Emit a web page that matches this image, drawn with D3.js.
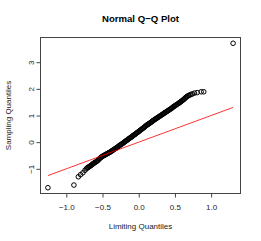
<!DOCTYPE html>
<html><head><meta charset="utf-8">
<script src="https://cdn.jsdelivr.net/npm/d3@7/dist/d3.min.js"></script>
<style>body{margin:0;background:#fff}svg{display:block}text{font-family:"Liberation Sans",Arial,sans-serif}</style>
</head><body><div id="chart"></div>
<script>
const title = "Normal Q\u2212Q Plot";
const xLabel = "Limiting Quantiles";
const yLabel = "Sampling Quantiles";
const xTicks = [-1.0, -0.5, 0.0, 0.5, 1.0];
const yTicks = [-1, 0, 1, 2, 3];
const theoretical = [
 -1.254,-0.895,-0.834,-0.803,-0.771,-0.743,
 -0.724,-0.712,-0.700,-0.690,-0.679,-0.668,-0.657,-0.646,-0.636,-0.625,-0.614,-0.603,-0.592,-0.581,-0.570,-0.559,-0.548,-0.537,-0.526,-0.515,-0.504,
 -0.493,-0.482,-0.471,-0.460,-0.449,-0.438,-0.427,-0.416,-0.405,-0.394,-0.383,-0.372,-0.361,-0.350,-0.340,
 -0.328,-0.317,-0.306,-0.295,-0.284,-0.273,-0.262,-0.251,-0.240,-0.229,-0.218,-0.207,-0.196,-0.185,-0.174,-0.163,-0.152,-0.141,-0.130,-0.119,-0.108,-0.097,-0.086,-0.075,-0.064,-0.053,-0.042,-0.031,-0.020,-0.009,0.002,0.013,0.024,0.035,0.046,0.057,0.068,0.079,0.090,0.101,0.112,
 0.123,0.134,0.145,0.156,0.167,0.178,0.189,0.200,0.211,0.222,0.233,0.244,0.255,0.266,0.277,0.288,0.299,0.310,0.321,0.332,0.343,0.354,0.365,0.376,0.387,0.398,0.409,0.420,0.431,0.442,0.453,0.464,0.475,0.486,0.497,0.508,0.519,0.530,0.541,0.552,0.563,0.574,0.585,0.596,0.607,0.618,0.629,0.640,0.651,0.662,
 0.675,0.690,0.705,0.722,0.740,0.770,0.807,0.862,0.898,
 1.303
];
const sample = [
 -1.71,-1.61,-1.30,-1.22,-1.15,-1.06,
 -1.00,-0.97,-0.95,-0.93,-0.91,-0.89,-0.87,-0.85,-0.82,-0.80,-0.78,-0.76,-0.74,-0.72,-0.70,-0.67,-0.64,-0.61,-0.58,-0.56,-0.54,
 -0.52,-0.50,-0.49,-0.47,-0.45,-0.44,-0.42,-0.40,-0.39,-0.37,-0.35,-0.33,-0.31,-0.29,-0.27,
 -0.25,-0.23,-0.21,-0.19,-0.17,-0.14,-0.12,-0.10,-0.08,-0.06,-0.04,-0.02,0.01,0.03,0.05,0.07,0.09,0.12,0.14,0.16,0.18,0.20,0.23,0.25,0.27,0.29,0.31,0.34,0.36,0.38,0.40,0.43,0.45,0.47,0.50,0.52,0.54,0.57,0.59,0.62,0.64,
 0.66,0.68,0.70,0.72,0.74,0.76,0.79,0.81,0.83,0.85,0.87,0.89,0.91,0.93,0.95,0.97,0.99,1.01,1.03,1.05,1.07,1.09,1.11,1.13,1.15,1.17,1.19,1.21,1.23,1.25,1.27,1.29,1.32,1.34,1.36,1.38,1.40,1.42,1.44,1.46,1.48,1.50,1.53,1.55,1.57,1.60,1.62,1.65,1.68,1.70,
 1.73,1.75,1.77,1.79,1.81,1.84,1.86,1.89,1.89,
 3.71
];
const refLine = [-1.254, 1.303];

const W = 261, H = 241;
const box = {l: 40.5, r: 240.5, t: 37.5, b: 193.5};
const svg = d3.select("#chart").append("svg").attr("width", W).attr("height", H);

const pad = (lo, hi) => { const d = (hi - lo) * 0.04; return [lo - d, hi + d]; };
const x = d3.scaleLinear().domain(pad(d3.min(theoretical), d3.max(theoretical))).range([box.l, box.r]);
const y = d3.scaleLinear().domain(pad(d3.min(sample), d3.max(sample))).range([box.b, box.t]);

const axisColor = "#444";
const fontFam = "Liberation Sans, Arial, sans-serif";
// x axis
const gx = svg.append("g").attr("transform", `translate(0,${box.b})`)
  .call(d3.axisBottom(x).tickValues(xTicks).tickSize(4).tickPadding(7).tickFormat(d3.format(".1f")));
gx.select(".domain").attr("d", `M${x(xTicks[0])},0H${x(xTicks[xTicks.length-1])}`).attr("stroke", axisColor);
gx.selectAll(".tick line").attr("stroke", axisColor);
gx.selectAll(".tick text").attr("font-size", 8).attr("fill", "#222").attr("font-family", fontFam);

// y axis
const gy = svg.append("g").attr("transform", `translate(${box.l},0)`)
  .call(d3.axisLeft(y).tickValues(yTicks).tickSize(4).tickFormat(d3.format("d")));
gy.select(".domain").attr("d", `M0,${y(yTicks[0])}V${y(yTicks[yTicks.length-1])}`).attr("stroke", axisColor);
gy.selectAll(".tick line").attr("stroke", axisColor);
gy.selectAll(".tick text").attr("font-size", 8).attr("fill", "#222").attr("font-family", fontFam)
  .attr("x", null).attr("dy", null).attr("text-anchor", "middle")
  .attr("transform", "translate(-7,0) rotate(-90)");

// box
svg.append("rect").attr("x", box.l).attr("y", box.t).attr("width", box.r - box.l).attr("height", box.b - box.t)
  .attr("fill", "none").attr("stroke", axisColor).attr("stroke-width", 1);

// points
svg.append("g").selectAll("circle").data(theoretical.map((t, i) => [t, sample[i]])).join("circle")
  .attr("cx", d => x(d[0])).attr("cy", d => y(d[1])).attr("r", 2.3)
  .attr("fill", "none").attr("stroke", "#000").attr("stroke-width", 1);

// reference line
svg.append("line").attr("x1", x(refLine[0])).attr("y1", y(refLine[0])).attr("x2", x(refLine[1])).attr("y2", y(refLine[1]))
  .attr("stroke", "#ff0000").attr("stroke-width", 0.8);

// title and labels
svg.append("text").attr("x", (box.l + box.r) / 2).attr("y", 22).attr("text-anchor", "middle")
  .attr("font-size", 9.6).attr("font-weight", "bold").text(title);
svg.append("text").attr("x", (box.l + box.r) / 2).attr("y", 229).attr("text-anchor", "middle")
  .attr("font-size", 8).attr("fill", "#222").text(xLabel);
svg.append("text").attr("transform", `translate(10.5,${(box.t + box.b) / 2}) rotate(-90)`).attr("text-anchor", "middle")
  .attr("font-size", 8).attr("fill", "#222").text(yLabel);
</script></body></html>
